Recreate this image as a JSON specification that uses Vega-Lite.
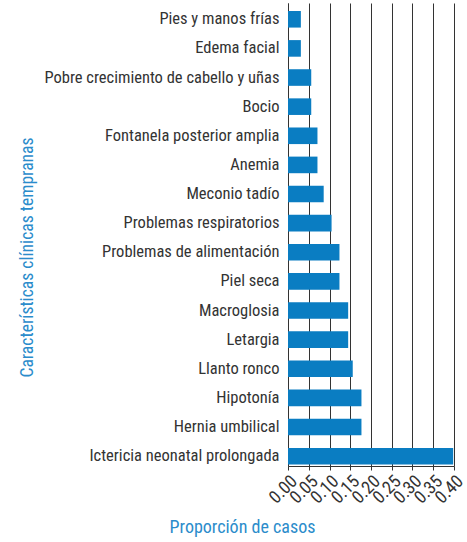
{
  "$schema": "https://vega.github.io/schema/vega-lite/v6.json",
  "description": "Características clínicas tempranas: proporción de casos.",
  "width": 166,
  "height": 463,
  "autosize": "none",
  "padding": {"left": 288, "top": 3, "right": 13, "bottom": 76},
  "background": "white",
  "config": {
    "view": {"stroke": null},
    "font": "Roboto Condensed, Liberation Sans, sans-serif"
  },
  "data": {
    "values": [
      {"caracteristica": "Pies y manos frías", "proporcion": 0.031},
      {"caracteristica": "Edema facial", "proporcion": 0.031},
      {"caracteristica": "Pobre crecimiento de cabello y uñas", "proporcion": 0.056},
      {"caracteristica": "Bocio", "proporcion": 0.056},
      {"caracteristica": "Fontanela posterior amplia", "proporcion": 0.071},
      {"caracteristica": "Anemia", "proporcion": 0.071},
      {"caracteristica": "Meconio tadío", "proporcion": 0.086},
      {"caracteristica": "Problemas respiratorios", "proporcion": 0.105},
      {"caracteristica": "Problemas de alimentación", "proporcion": 0.124},
      {"caracteristica": "Piel seca", "proporcion": 0.124},
      {"caracteristica": "Macroglosia", "proporcion": 0.145},
      {"caracteristica": "Letargia", "proporcion": 0.145},
      {"caracteristica": "Llanto ronco", "proporcion": 0.156},
      {"caracteristica": "Hipotonía", "proporcion": 0.177},
      {"caracteristica": "Hernia umbilical", "proporcion": 0.177},
      {"caracteristica": "Ictericia neonatal prolongada", "proporcion": 0.398}
    ]
  },
  "mark": {"type": "bar", "color": "#0a7dc2"},
  "encoding": {
    "y": {
      "field": "caracteristica",
      "type": "nominal",
      "sort": null,
      "scale": {"paddingInner": 0.43, "paddingOuter": 0.163, "align": 0.84},
      "axis": {
        "title": "Características clínicas tempranas",
        "ticks": false,
        "grid": false,
        "domainColor": "#333333",
        "domainWidth": 1,
        "labelFontSize": 16.5,
        "labelColor": "#333333",
        "labelPadding": 9,
        "labelLimit": 300,
        "titleColor": "#2b8ccb",
        "titleFontSize": 17.6,
        "titleFontWeight": "normal",
        "titleAngle": 270,
        "titleAlign": "center",
        "titleBaseline": "middle",
        "titleX": -261,
        "titleY": 254
      }
    },
    "x": {
      "field": "proporcion",
      "type": "quantitative",
      "scale": {"domain": [0, 0.4], "nice": false},
      "axis": {
        "values": [0, 0.05, 0.1, 0.15, 0.2, 0.25, 0.3, 0.35, 0.4],
        "format": ".2f",
        "labelOverlap": false,
        "labelAngle": -45,
        "labelAlign": "right",
        "labelBaseline": "top",
        "labelPadding": 2,
        "labelFontSize": 18,
        "labelColor": "#333333",
        "tickColor": "#333333",
        "tickSize": 4,
        "domainColor": "#333333",
        "grid": true,
        "gridColor": "#333333",
        "gridOpacity": 1,
        "gridWidth": 1,
        "title": "Proporción de casos",
        "titleColor": "#2b8ccb",
        "titleFontSize": 18,
        "titleFontWeight": "normal",
        "titleAlign": "center",
        "titleBaseline": "alphabetic",
        "titleX": -46,
        "titleY": 66
      }
    }
  }
}
